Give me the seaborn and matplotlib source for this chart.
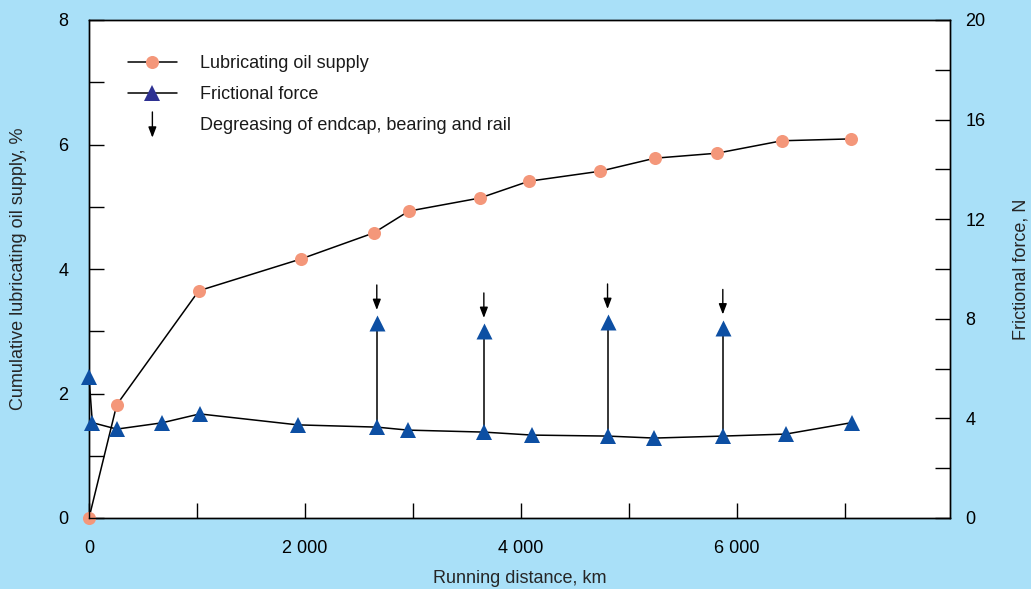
import numpy as np
import pandas as pd
import seaborn as sns
import matplotlib
matplotlib.use("Agg")
import matplotlib.pyplot as plt
import matplotlib.transforms as mtransforms
from matplotlib.lines import Line2D
from matplotlib.patches import FancyArrowPatch
from matplotlib.legend_handler import HandlerBase
from matplotlib.ticker import FixedLocator, FixedFormatter

# ---------------- data ----------------
oil_distance = [0, 257, 1016, 1960, 2636, 2960, 3618, 4072, 4729, 5238, 5812, 6414, 7053]
oil_supply = [0.0, 1.82, 3.65, 4.16, 4.58, 4.93, 5.14, 5.41, 5.57, 5.78, 5.86, 6.06, 6.09]

force_distance = [0, 31, 257, 673, 1025, 1932, 2664, 2951, 3655, 4100, 4800, 5233, 5867, 6449, 7061]
force_value = [5.66, 3.83, 3.57, 3.82, 4.18, 3.74, 3.65, 3.53, 3.45, 3.33, 3.29, 3.21, 3.29, 3.37, 3.83]

degrease_distance = [2664, 3655, 4800, 5867]
degrease_base = [3.65, 3.45, 3.29, 3.29]
degrease_peak = [7.83, 7.51, 7.87, 7.65]

x_major = [0, 2000, 4000, 6000]
x_major_labels = ["0", "2 000", "4 000", "6 000"]
x_minor = [1000, 3000, 5000, 7000]
left_major = [0, 2, 4, 6, 8]
left_minor = [1, 3, 5, 7]
right_major = [0, 4, 8, 12, 16, 20]
right_minor = [2, 6, 10, 14, 18]

legend_labels = ["Lubricating oil supply", "Frictional force",
                 "Degreasing of endcap, bearing and rail"]
x_label = "Running distance, km"
left_label = "Cumulative lubricating oil supply, %"
right_label = "Frictional force, N"

# ---------------- style ----------------
BG = "#A9E0F8"
ORANGE = "#F4977A"
BLUE = "#0D4FA3"
NAVY = "#2E3192"
ARROW_STYLE = "-|>,head_length=0.42,head_width=0.16"

sns.set_theme(style="ticks")
plt.rcParams["font.family"] = ["Liberation Sans", "DejaVu Sans"]
plt.rcParams["font.size"] = 13

fig = plt.figure(figsize=(10.31, 5.89), dpi=100, facecolor=BG)
ax = fig.add_axes([89 / 1031, 71 / 589, 861 / 1031, 498 / 589])
ax.set_facecolor("white")
ax2 = ax.twinx()

oil_df = pd.DataFrame({"distance": oil_distance, "supply": oil_supply})
force_df = pd.DataFrame({"distance": force_distance, "force": force_value})
peak_df = pd.DataFrame({"distance": degrease_distance, "base": degrease_base,
                        "peak": degrease_peak})

sns.lineplot(data=oil_df, x="distance", y="supply", ax=ax, sort=False,
             color="black", linewidth=1.1, marker="o", markersize=9.4,
             markerfacecolor=ORANGE, markeredgewidth=0, zorder=3, clip_on=False)

ax2.vlines(peak_df["distance"], peak_df["base"], peak_df["peak"],
           color="black", linewidth=1.1, zorder=2)
sns.lineplot(data=force_df, x="distance", y="force", ax=ax2, sort=False,
             color="black", linewidth=1.1, marker="^", markersize=11.5,
             markerfacecolor=BLUE, markeredgewidth=0, zorder=3, clip_on=False)
sns.scatterplot(data=peak_df, x="distance", y="peak", ax=ax2, marker="^",
                s=11.5 ** 2, color=BLUE, linewidth=0, zorder=3)

# degreasing arrows above each peak
tip_trans = mtransforms.offset_copy(ax2.transData, fig=fig, x=0, y=9.4, units="points")
for xd, yp in zip(degrease_distance, degrease_peak):
    ax2.annotate("", xy=(xd, yp), xycoords=tip_trans,
                 xytext=(0, 18), textcoords="offset points",
                 arrowprops=dict(arrowstyle=ARROW_STYLE,
                                 mutation_scale=15, color="black", lw=1.0,
                                 shrinkA=0, shrinkB=0))

# ---------------- axes ----------------
ax.set_xlim(0, 7970)
ax.set_ylim(0, 8)
ax2.set_ylim(0, 20)

ax.xaxis.set_major_locator(FixedLocator(x_major))
ax.xaxis.set_major_formatter(FixedFormatter(x_major_labels))
ax.xaxis.set_minor_locator(FixedLocator(x_minor))
ax.yaxis.set_major_locator(FixedLocator(left_major))
ax.yaxis.set_minor_locator(FixedLocator(left_minor))
ax2.yaxis.set_major_locator(FixedLocator(right_major))
ax2.yaxis.set_minor_locator(FixedLocator(right_minor))

for a in (ax, ax2):
    a.tick_params(which="both", direction="in", length=10.8, width=1.0,
                  colors="black", labelsize=13)
    for sp in a.spines.values():
        sp.set_color("black")
        sp.set_linewidth(1.0)
ax.tick_params(axis="x", which="both", pad=16, top=False)
ax.tick_params(axis="y", which="both", pad=15, right=False)
ax2.tick_params(axis="y", which="both", pad=11, left=False)

ax.set_xlabel(x_label, fontsize=13)
ax.set_ylabel(left_label, fontsize=13)
ax2.set_ylabel(right_label, fontsize=13)
ax.xaxis.set_label_coords(0.5, -0.105)
ax.yaxis.set_label_coords(-0.072, 0.5)
ax2.yaxis.set_label_coords(1.073, 0.5)

# ---------------- legend ----------------
class ArrowHandler(HandlerBase):
    def create_artists(self, legend, orig_handle, xdescent, ydescent,
                       width, height, fontsize, trans):
        cx = width / 2 - xdescent
        arr = FancyArrowPatch((cx, height + 4), (cx, height - 14.5),
                              arrowstyle=ARROW_STYLE,
                              mutation_scale=15, color="black", lw=1.0,
                              shrinkA=0, shrinkB=0, transform=trans)
        return [arr]

h_oil = Line2D([], [], color="black", lw=1.1, marker="o", markersize=9.4,
               markerfacecolor=ORANGE, markeredgewidth=0)
h_force = Line2D([], [], color="black", lw=1.1, marker="^", markersize=11.5,
                 markerfacecolor=NAVY, markeredgewidth=0)
h_arrow = object()

leg = ax2.legend([h_oil, h_force, h_arrow], legend_labels,
                 handler_map={h_arrow: ArrowHandler()},
                 loc="upper left", bbox_to_anchor=(0.0453, 0.929),
                 frameon=False, fontsize=13, handlelength=2.7,
                 handletextpad=1.3, labelspacing=0.77, borderpad=0,
                 borderaxespad=0)
for t in leg.get_texts():
    t.set_color("#1a1a1a")

fig.savefig("out.png", dpi=100, facecolor=BG)
